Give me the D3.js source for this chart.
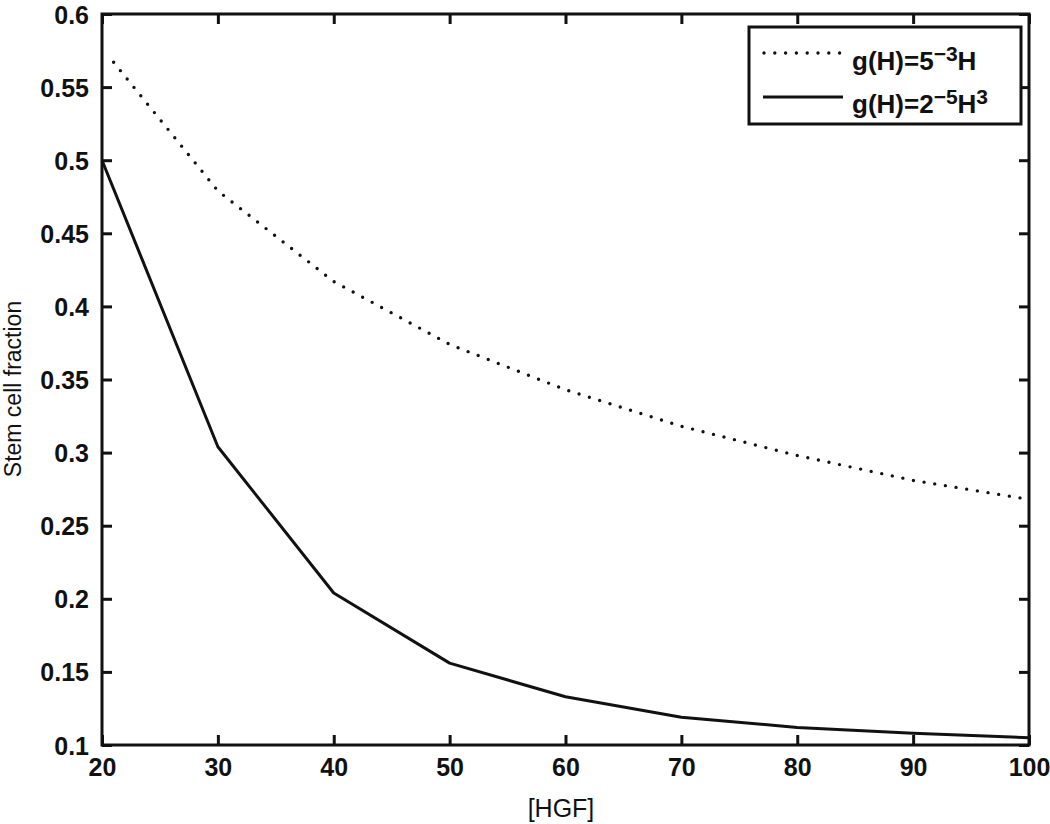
<!DOCTYPE html>
<html>
<head>
<meta charset="utf-8">
<script src="https://cdn.jsdelivr.net/npm/d3@7"></script>
<style>
  body { margin: 0; background: #fff; }
  text { font-family: "Liberation Sans", Arial, sans-serif; fill: #111; }
</style>
</head>
<body>
<script>
// values
let hgf = [20, 30, 40, 50, 60, 70, 80, 90, 100];
let cubicFrac = [0.5, 0.304, 0.204, 0.156, 0.133, 0.119, 0.112, 0.108, 0.105];
let linearX = [21, 30, 40, 50, 60, 70, 80, 90, 100];
let linearFrac = [0.567, 0.479, 0.417, 0.374, 0.343, 0.318, 0.298, 0.281, 0.268];
let xTicks = [20, 30, 40, 50, 60, 70, 80, 90, 100];
let yTicks = [0.1, 0.15, 0.2, 0.25, 0.3, 0.35, 0.4, 0.45, 0.5, 0.55, 0.6];

let W = 1050, H = 824;
let pLeft = 102, pRight = 1029, pTop = 14, pBottom = 745;

let svg = d3
    .select("body")
    .append("svg")
    .attr("width", W)
    .attr("height", H);

let x = d3.scaleLinear().domain([20, 100]).range([pLeft, pRight]);
let y = d3.scaleLinear().domain([0.1, 0.6]).range([pBottom, pTop]);

let line = d3.line()
    .x((d) => x(d[0]))
    .y((d) => y(d[1]));

// curves
svg.append("path")
    .datum(linearX.map((v, i) => [v, linearFrac[i]]))
    .attr("d", line)
    .attr("fill", "none")
    .attr("stroke", "#111")
    .attr("stroke-width", 3.4)
    .attr("stroke-linecap", "round")
    .attr("stroke-dasharray", "0 10.8");

svg.append("path")
    .datum(hgf.map((v, i) => [v, cubicFrac[i]]))
    .attr("d", line)
    .attr("fill", "none")
    .attr("stroke", "#111")
    .attr("stroke-width", 3)
    .attr("stroke-linejoin", "round");

// axes: ticks inside on all four sides, matlab style
let tickLen = 10;
function axisG(axis, tx, ty) {
    let g = svg.append("g").attr("transform", `translate(${tx},${ty})`).call(axis);
    g.select(".domain").remove();
    g.selectAll("line").attr("stroke", "#111").attr("stroke-width", 3);
    return g;
}

let gx = axisG(d3.axisTop(x).tickValues(xTicks).tickSize(tickLen).tickFormat(d3.format("d")), 0, pBottom);
gx.selectAll("text")
    .attr("y", 31)
    .attr("dy", 0)
    .style("font-size", "25px")
    .style("font-weight", "bold");

axisG(d3.axisBottom(x).tickValues(xTicks).tickSize(tickLen).tickFormat(""), 0, pTop);

let gy = axisG(d3.axisRight(y).tickValues(yTicks).tickSize(tickLen).tickFormat((d) => String(+d.toFixed(2))), pLeft, 0);
gy.selectAll("text")
    .attr("x", -13)
    .attr("dy", "0.36em")
    .attr("text-anchor", "end")
    .style("font-size", "25px")
    .style("font-weight", "bold");

axisG(d3.axisLeft(y).tickValues(yTicks).tickSize(tickLen).tickFormat(""), pRight, 0);

svg.append("rect")
    .attr("x", pLeft)
    .attr("y", pTop)
    .attr("width", pRight - pLeft)
    .attr("height", pBottom - pTop)
    .attr("fill", "none")
    .attr("stroke", "#111")
    .attr("stroke-width", 3);

// axis titles
svg.append("text")
    .attr("x", 561)
    .attr("y", 817)
    .attr("text-anchor", "middle")
    .style("font-size", "25px")
    .text("[HGF]");

svg.append("text")
    .attr("transform", "translate(21,389) rotate(-90)")
    .attr("text-anchor", "middle")
    .style("font-size", "23px")
    .text("Stem cell fraction");

// legend
let lg = svg.append("g");
lg.append("rect")
    .attr("x", 749)
    .attr("y", 27)
    .attr("width", 272)
    .attr("height", 97)
    .attr("fill", "#fff")
    .attr("stroke", "#111")
    .attr("stroke-width", 3);

lg.append("line")
    .attr("x1", 764).attr("x2", 842)
    .attr("y1", 53).attr("y2", 53)
    .attr("stroke", "#111")
    .attr("stroke-width", 3.4)
    .attr("stroke-linecap", "round")
    .attr("stroke-dasharray", "0 10.8");

lg.append("line")
    .attr("x1", 763).attr("x2", 843)
    .attr("y1", 97).attr("y2", 97)
    .attr("stroke", "#111")
    .attr("stroke-width", 3);

function legendText(yPos, parts) {
    let t = lg.append("text")
        .attr("x", 852)
        .attr("y", yPos)
        .style("font-size", "26px")
        .style("font-weight", "bold");
    parts.forEach((p) => {
        let s = t.append("tspan").text(p[0]);
        if (p[1]) {
            s.attr("baseline-shift", "45%").style("font-size", "21px");
        }
    });
}
legendText(70, [["g(H)=5"], ["\u22123", true], ["H"]]);
legendText(113, [["g(H)=2"], ["\u22125", true], ["H"], ["3", true]]);
</script>
</body>
</html>
